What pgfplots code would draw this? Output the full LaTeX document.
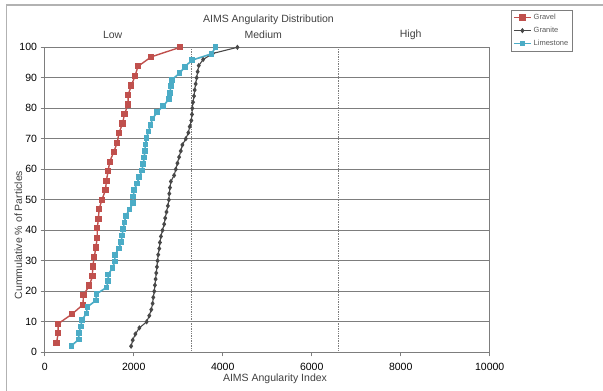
\documentclass[border=0pt]{standalone}
\usepackage{pgfplots}
\pgfplotsset{compat=1.18}
\usepackage{fontspec}
\setmainfont{Liberation Sans}
\definecolor{gravel}{RGB}{192,80,77}
\definecolor{granite}{RGB}{72,72,72}
\definecolor{limec}{RGB}{75,172,198}
\definecolor{gridc}{RGB}{125,125,125}
\begin{document}
\fontsize{10.5}{12}\selectfont
\begin{tikzpicture}
\path[use as bounding box] (0pt,0pt) rectangle (603pt,391pt);
\draw[gray!60, line width=1.3pt] (6.7pt,-2pt) -- (6.7pt,386pt) -- (605pt,386pt);
\begin{axis}[
  at={(44.7pt,38.7pt)}, anchor=south west,
  scale only axis, width=445pt, height=305pt,
  xmin=0, xmax=10000, ymin=0, ymax=100,
  xtick={0,2000,4000,6000,8000,10000},
  ytick={0,10,...,100},
  scaled x ticks=false,
  /pgf/number format/assume math mode=true,
  xticklabel style={/pgf/number format/1000 sep={}, font=\fontsize{10.5}{12}\selectfont, yshift=-3pt},
  yticklabel style={font=\fontsize{10.5}{12}\selectfont},
  tick align=outside, tick pos=left,
  major tick length=4pt,
  tick style={gridc, line width=0.8pt},
  axis line style={gridc, line width=0.8pt},
  ymajorgrids,
  grid style={gridc, line width=0.8pt},
  clip=false,
  legend style={at={(1.048,1.122)}, anchor=north west, draw=gridc,
    font=\fontsize{7.5}{8}\selectfont, text=black!65, inner sep=1.8pt, row sep=2pt,
    cells={anchor=west}},
]
\addplot[gridc, densely dotted, line width=0.7pt, forget plot] coordinates {(3300,0) (3300,100)};
\addplot[gridc, densely dotted, line width=0.7pt, forget plot] coordinates {(6600,0) (6600,100)};

\addplot[gravel, line width=1.4pt, mark=square*, mark size=2.4pt] coordinates {
(266,3.125) (303,6.25) (303,9.375) (612,12.5) (860,15.625) (871,18.75) (1004,21.875)
(1074,25) (1077,28.125) (1115,31.25) (1148,34.375) (1181,37.5) (1181,40.625)
(1207,43.75) (1222,46.875) (1285,50) (1365,53.125) (1387,56.25) (1424,59.375)
(1461,62.5) (1550,65.625) (1631,68.75) (1668,71.875) (1749,75) (1793,78.125)
(1875,81.25) (1875,84.375) (1948,87.5) (2030,90.625) (2096,93.75) (2395,96.875) (3045,100)
};
\addlegendentry{Gravel}

\addplot[granite, line width=1.1pt, mark=diamond*, mark size=1.8pt] coordinates {
(1942,2) (1978,4) (2038,6) (2127,8) (2291,10) (2350,12) (2395,14) (2425,16)
(2440,18) (2462,20) (2477,22) (2492,24) (2507,26) (2522,28) (2536,30) (2551,32)
(2574,34) (2589,36) (2612,38) (2647,40) (2685,42) (2708,44) (2737,46) (2768,48)
(2790,50) (2800,52) (2815,54) (2835,56) (2908,58) (2946,60) (2983,62) (3020,64)
(3058,66) (3094,68) (3170,70) (3228,72) (3259,74) (3295,76) (3310,78) (3317,80)
(3333,82) (3355,84) (3370,86) (3393,88) (3415,90) (3437,92) (3462,94) (3560,96)
(3780,98) (4330,100)
};
\addlegendentry{Granite}

\addplot[limec, line width=1.6pt, mark=square*, mark size=2pt] coordinates {
(600,2.13) (766,4.26) (766,6.38) (810,8.51) (840,10.64) (937,12.77) (959,14.89)
(1152,17.02) (1167,19.15) (1390,21.28) (1428,23.40) (1428,25.53) (1524,27.66)
(1576,29.79) (1576,31.91) (1665,34.04) (1718,36.17) (1740,38.30) (1762,40.43)
(1792,42.55) (1822,44.68) (1903,46.81) (1985,48.94) (1990,51.06) (2010,53.19)
(2075,55.32) (2125,57.45) (2185,59.57) (2210,61.70) (2238,63.83) (2248,65.96)
(2263,68.09) (2290,70.21) (2330,72.34) (2378,74.47) (2423,76.60) (2530,78.72)
(2661,80.85) (2798,82.98) (2813,85.11) (2836,87.23) (2858,89.36) (3030,91.49)
(3152,93.62) (3304,95.74) (3750,97.87) (3839,100)
};
\addlegendentry{Limestone}
\end{axis}
\node[text=black!75] at (268.5pt,371.7pt) {AIMS Angularity Distribution};
\node[text=black!75] at (112.7pt,356.5pt) {Low};
\node[text=black!75] at (263.3pt,356.5pt) {Medium};
\node[text=black!75] at (410.7pt,356.2pt) {High};
\node[text=black!75] at (275pt,12pt) {AIMS Angularity Index};
\node[text=black!75, rotate=90] at (18.3pt,156pt) {Cummulative \% of Particles};
\end{tikzpicture}
\end{document}
